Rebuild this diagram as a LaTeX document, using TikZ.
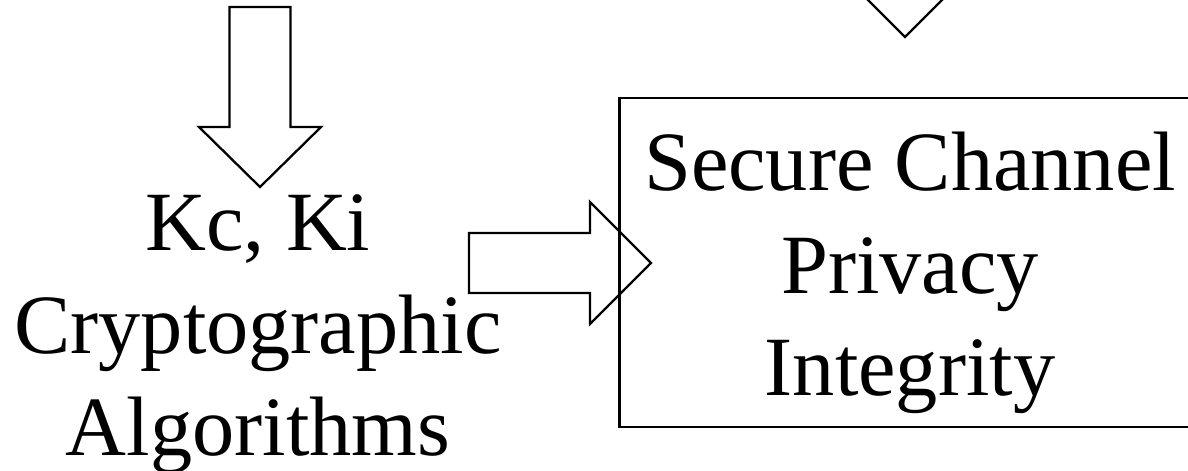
\documentclass[tikz,border=0pt]{standalone}
\usepackage{fontspec}
\setmainfont{Liberation Serif}
\usetikzlibrary{arrows.meta}

\begin{document}
\begin{tikzpicture}[xscale=1,yscale=1,
  blockarrow/.style={line width=1.3pt, line join=miter},
  bigtext/.style={anchor=base, inner sep=0pt, font=\fontsize{48}{58}\selectfont}]
\clip (0,0) rectangle (23.76,9.4);
% output box, runs past the right edge
\node [draw, line width=1.3pt, inner sep=0pt, minimum width=11.61cm, minimum height=6.58cm] (channel) at (18.195,4.15) {};
% block arrows
\draw [blockarrow] (4.59,9.26) -- (4.59,6.86) -- (3.98,6.86) -- (5.2,5.66) -- (6.42,6.86) -- (5.81,6.86) -- (5.81,9.26) -- cycle;
\draw [blockarrow] (9.38,4.74) -- (11.8,4.74) -- (11.8,5.36) -- (13.02,4.14) -- (11.8,2.92) -- (11.8,3.54) -- (9.38,3.54) -- cycle;
\draw [blockarrow] (17.49,11) -- (17.49,9.88) -- (16.88,9.88) -- (18.1,8.66) -- (19.32,9.88) -- (18.71,9.88) -- (18.71,11) -- cycle;
% left text
\node [bigtext] (keys) at (5.16,4.4) {Kc, Ki};
\node [bigtext] (crypto) at (5.16,2.34) {Cryptographic};
\node [bigtext] (algos) at (5.16,0.3) {Algorithms};
% box text
\node [bigtext] (secure) at (18.2,5.6) {Secure Channel};
\node [bigtext] (privacy) at (18.2,3.54) {Privacy};
\node [bigtext] (integrity) at (18.2,1.5) {Integrity};
\end{tikzpicture}
\end{document}
